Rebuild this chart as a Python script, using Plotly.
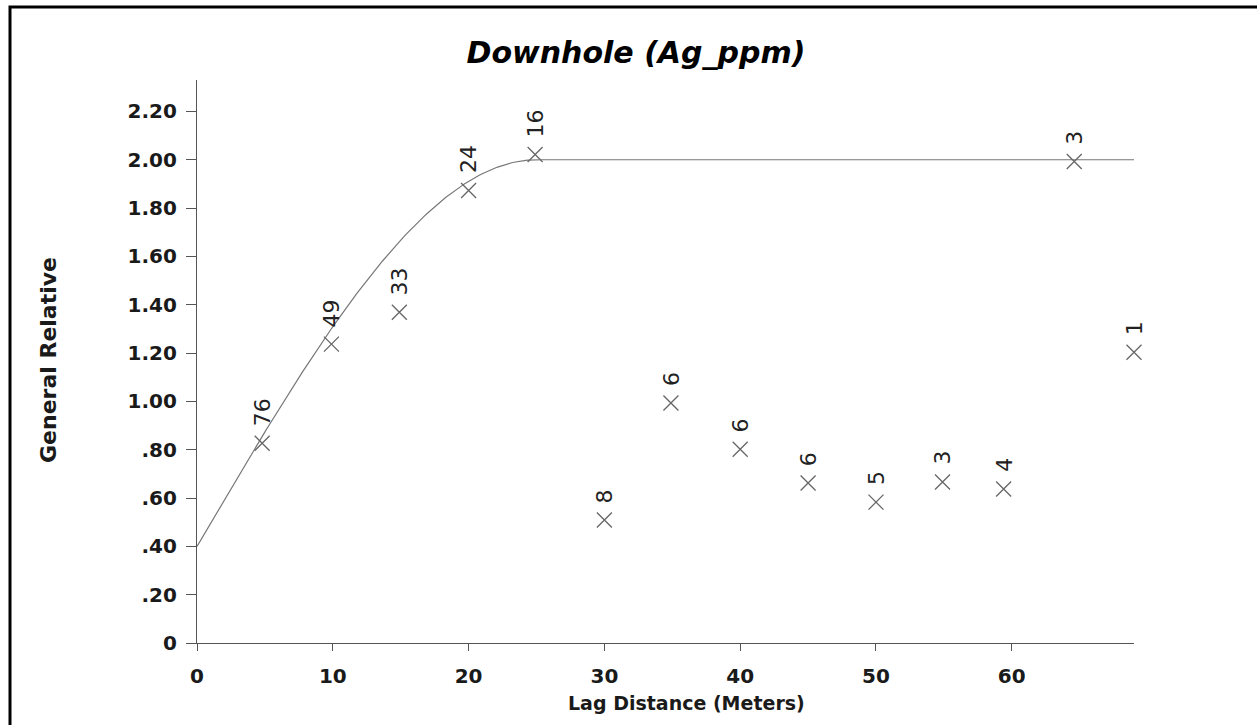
import numpy as np
import plotly.graph_objects as go

# Experimental variogram: lag distance, semivariance, number of pairs
lag = [4.8, 9.9, 14.9, 20.0, 24.9, 30.0, 34.9, 40.0, 45.0, 50.0, 54.9, 59.4, 64.6, 69.0]
gamma = [0.827, 1.237, 1.369, 1.873, 2.022, 0.509, 0.993, 0.802, 0.662, 0.583, 0.666, 0.637, 1.993, 1.203]
pairs = [76, 49, 33, 24, 16, 8, 6, 6, 6, 5, 3, 4, 3, 1]

# Spherical model parameters
nugget = 0.4
sill = 2.0
model_range = 25.0
x_max = 69.0

yticks = [0, 0.2, 0.4, 0.6, 0.8, 1.0, 1.2, 1.4, 1.6, 1.8, 2.0, 2.2]
yticklabels = ["0", ".20", ".40", ".60", ".80", "1.00", "1.20", "1.40", "1.60", "1.80", "2.00", "2.20"]
xticks = [0, 10, 20, 30, 40, 50, 60]

h = np.linspace(0, x_max, 400)
hr = np.minimum(h / model_range, 1.0)
model = nugget + (sill - nugget) * (1.5 * hr - 0.5 * hr ** 3)

FONT = "DejaVu Sans"

fig = go.Figure()
fig.add_trace(go.Scatter(x=h, y=model, mode="lines",
                         line=dict(color="#777777", width=1.2),
                         hoverinfo="skip", showlegend=False, cliponaxis=False))
fig.add_trace(go.Scatter(x=lag, y=gamma, mode="markers", cliponaxis=False,
                         marker=dict(symbol="x-thin-open", size=15, color="#666666",
                                     line=dict(color="#666666", width=1.3)),
                         showlegend=False))

for x, y, n in zip(lag, gamma, pairs):
    fig.add_annotation(x=x, y=y, text=str(n), showarrow=False, textangle=-90,
                       yanchor="bottom", xanchor="center", yshift=15,
                       font=dict(family=FONT, size=22, color="#222222"))

W, H = 1257, 725
L, R, T, B = 197, 123, 80, 82
pw, ph = W - L - R, H - T - B

def px(xp):
    return (xp - L) / pw

def py(yp):
    return (H - B - yp) / ph

# Outer frame
fig.add_shape(type="rect", xref="paper", yref="paper",
              x0=px(10), x1=px(1270), y0=py(740), y1=py(7),
              line=dict(color="black", width=3), fillcolor="rgba(0,0,0,0)")

# Axis titles
fig.add_annotation(xref="paper", yref="paper", x=px(686), y=py(703),
                   text="<b>Lag Distance (Meters)</b>", showarrow=False,
                   xanchor="center", yanchor="middle",
                   font=dict(family=FONT, size=19, color="#1a1a1a"))
fig.add_annotation(xref="paper", yref="paper", x=px(48), y=py(360),
                   text="<b>General Relative</b>", showarrow=False, textangle=-90,
                   xanchor="center", yanchor="middle",
                   font=dict(family=FONT, size=22, color="#1a1a1a"))

tick_font = dict(family=FONT, size=20, color="#1a1a1a")
fig.update_layout(
    width=W, height=H,
    margin=dict(l=L, r=R, t=T, b=B),
    paper_bgcolor="white", plot_bgcolor="white",
    title=dict(text="<b><i>Downhole (Ag_ppm)</i></b>", x=636 / W, xref="container",
               xanchor="center", y=1 - 52 / H, yanchor="middle",
               font=dict(family=FONT, size=30, color="black")),
    xaxis=dict(range=[0, x_max], tickvals=xticks, ticktext=[f"<b>{t}</b>" for t in xticks],
               showgrid=False, zeroline=False, showline=True, linecolor="#555555", linewidth=1.2,
               ticks="outside", ticklen=7, tickcolor="#555555", tickfont=tick_font,
               ticklabelstandoff=8),
    yaxis=dict(range=[0, 2.33], tickvals=yticks, ticktext=[f"<b>{t}</b>" for t in yticklabels],
               showgrid=False, zeroline=False, showline=True, linecolor="#555555", linewidth=1.2,
               ticks="outside", ticklen=10, tickcolor="#555555", tickfont=tick_font,
               ticklabelstandoff=5),
)

fig.write_html("out.html")
